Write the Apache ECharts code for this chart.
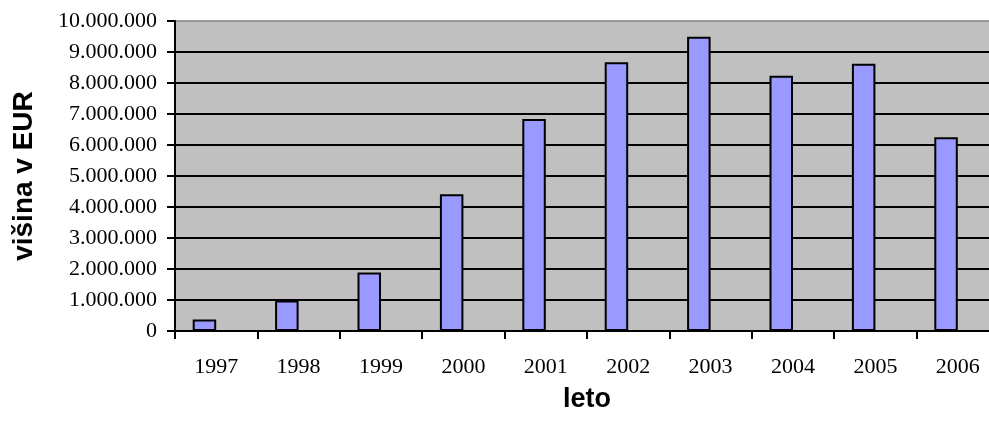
<!DOCTYPE html>
<html>
<head>
<meta charset="utf-8">
<script src="https://cdn.jsdelivr.net/npm/echarts@6/dist/echarts.min.js"></script>
<style>
html,body{margin:0;padding:0;background:#fff;overflow:hidden;width:989px;height:424px;}
#chart{width:1000px;height:424px;}
</style>
</head>
<body>
<div id="chart"></div>
<script>
const years = ['1997','1998','1999','2000','2001','2002','2003','2004','2005','2006'];
const amounts = [370000, 980000, 1890000, 4410000, 6840000, 8670000, 9490000, 8230000, 8620000, 6250000];
const emptySeries = [null, null, null, null, null, null, null, null, null, null];
const yAxisTitle = 'višina v EUR';
const xAxisTitle = 'leto';

function fmt(v){
  return String(Math.round(v)).replace(/\B(?=(\d{3})+(?!\d))/g, '.');
}

const chart = echarts.init(document.getElementById('chart'), null, {renderer:'canvas'});
chart.setOption({
  animation:false,
  backgroundColor:'#ffffff',
  grid:{left:175, top:21, right:1, bottom:93, show:true, backgroundColor:'#C0C0C0', borderColor:'#808080', borderWidth:1.5},
  xAxis:{
    type:'category',
    data:years,
    name:xAxisTitle,
    nameLocation:'middle',
    nameGap:55,
    nameTextStyle:{fontFamily:'Liberation Sans', fontWeight:'bold', fontSize:27, color:'#000'},
    axisLine:{lineStyle:{color:'#000', width:2}},
    axisTick:{show:true, length:8, lineStyle:{color:'#000', width:2}},
    axisLabel:{fontFamily:'Liberation Serif', fontSize:22, color:'#000', margin:25},
    splitLine:{show:false}
  },
  yAxis:{
    type:'value',
    min:0, max:10000000, interval:1000000,
    name:yAxisTitle,
    nameLocation:'middle',
    nameGap:137,
    nameRotate:90,
    nameTextStyle:{fontFamily:'Liberation Sans', fontWeight:'bold', fontSize:28, color:'#000'},
    axisLine:{show:true, lineStyle:{color:'#000', width:2}},
    axisTick:{show:true, length:8, lineStyle:{color:'#000', width:2}},
    axisLabel:{fontFamily:'Liberation Serif', fontSize:22, color:'#000', margin:18, formatter:fmt},
    splitLine:{show:true, showMaxLine:false, lineStyle:{color:'#000', width:2}}
  },
  series:[
    {type:'bar', data:amounts, barGap:'0%', barWidth:23.5,
     itemStyle:{color:'#9999FF', borderColor:'#000', borderWidth:2}},
    {type:'bar', data:emptySeries, barGap:'0%', barWidth:23.5,
     itemStyle:{color:'#993366', borderColor:'#000', borderWidth:2}}
  ]
});
</script>
</body>
</html>
